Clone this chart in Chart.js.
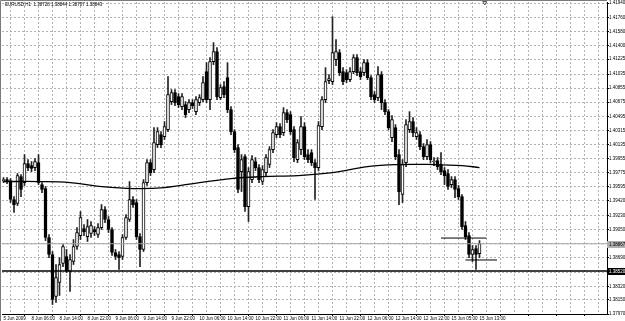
<!DOCTYPE html>
<html lang="en">
<head>
<meta charset="UTF-8">
<title>EURUSD,H1</title>
<script src="https://cdn.jsdelivr.net/npm/chart.js"></script>
<style>
  html, body { margin: 0; padding: 0; background: #fff; }
  #chart { display: block; }
</style>
</head>
<body>
<canvas id="chart" width="625" height="321"></canvas>
<script>
// EURUSD H1 candles, one entry per hour bar (bar 0 = 5 Jun 2009 afternoon)
const opens = [
  1.39674, 1.39687, 1.39674, 1.39432, 1.39381, 1.39725, 1.39649, 1.39891, 1.39866, 1.39840,
  1.39904, 1.39623, 1.39572, 1.38947, 1.38730, 1.38194, 1.38372, 1.38615, 1.38704, 1.38513,
  1.38640, 1.38832, 1.38972, 1.39062, 1.38959, 1.38998, 1.39049, 1.38985, 1.39074, 1.39304,
  1.39177, 1.39049, 1.38755, 1.38730, 1.38704, 1.38947, 1.39177, 1.39432, 1.39394, 1.38959,
  1.38794, 1.39649, 1.39904, 1.39815, 1.40134, 1.40262, 1.40236, 1.40325, 1.40683, 1.40798,
  1.40747, 1.40619, 1.40645, 1.40581, 1.40670, 1.40555, 1.40670, 1.40708, 1.41066, 1.40708,
  1.41194, 1.41321, 1.40734, 1.40874, 1.40989, 1.40581, 1.40300, 1.40096, 1.39789, 1.39981,
  1.39342, 1.39687, 1.39917, 1.39840, 1.39662, 1.39776, 1.39879, 1.40070, 1.40262, 1.40364,
  1.40287, 1.40542, 1.40517, 1.40325, 1.39942, 1.40070, 1.40364, 1.40006, 1.40032, 1.39904,
  1.39840, 1.40364, 1.40708, 1.40951, 1.40938, 1.41219, 1.41308, 1.41066, 1.41053, 1.40964,
  1.41066, 1.41245, 1.41066, 1.41053, 1.41181, 1.40989, 1.40772, 1.40734, 1.41028, 1.40670,
  1.40555, 1.40223, 1.40351, 1.40006, 1.39496, 1.39904, 1.40325, 1.40428, 1.40236, 1.40262,
  1.40108, 1.39981, 1.40134, 1.39917, 1.39930, 1.39879, 1.39802, 1.39764, 1.39623, 1.39687,
  1.39572, 1.39470, 1.39100, 1.38972, 1.38730, 1.38806, 1.38742
];
const highs = [
  1.39713, 1.39713, 1.39700, 1.39470, 1.39764, 1.39751, 1.40006, 1.39942, 1.39917, 1.39955,
  1.40006, 1.39649, 1.39598, 1.38985, 1.38768, 1.38602, 1.38691, 1.38857, 1.38794, 1.38730,
  1.38921, 1.39074, 1.39279, 1.39113, 1.39177, 1.39151, 1.39087, 1.39125, 1.39368, 1.39342,
  1.39215, 1.39074, 1.38794, 1.38768, 1.38985, 1.39240, 1.39662, 1.39470, 1.39432, 1.38998,
  1.39687, 1.39942, 1.39942, 1.40351, 1.40351, 1.40300, 1.40428, 1.41002, 1.40836, 1.40836,
  1.40785, 1.40785, 1.40683, 1.40708, 1.40708, 1.40747, 1.40772, 1.41002, 1.41181, 1.41245,
  1.41436, 1.41372, 1.40900, 1.40938, 1.41181, 1.40619, 1.40325, 1.40134, 1.40006, 1.40006,
  1.39840, 1.39994, 1.39968, 1.39879, 1.39866, 1.40006, 1.40108, 1.40325, 1.40415, 1.40402,
  1.40606, 1.40581, 1.40555, 1.40364, 1.40198, 1.40491, 1.40415, 1.40070, 1.40070, 1.39942,
  1.40428, 1.40747, 1.41117, 1.41028, 1.41768, 1.41474, 1.41347, 1.41117, 1.41091, 1.41117,
  1.41283, 1.41283, 1.41117, 1.41219, 1.41219, 1.41015, 1.40811, 1.41130, 1.41066, 1.40708,
  1.40581, 1.40504, 1.40389, 1.40070, 1.39942, 1.40453, 1.40555, 1.40479, 1.40351, 1.40300,
  1.40147, 1.40198, 1.40172, 1.39968, 1.39968, 1.40032, 1.39840, 1.39815, 1.39725, 1.39725,
  1.39611, 1.39496, 1.39151, 1.39011, 1.38845, 1.38845, 1.38908
];
const lows = [
  1.39649, 1.39636, 1.39394, 1.39266, 1.39355, 1.39470, 1.39611, 1.39802, 1.39789, 1.39802,
  1.39623, 1.39521, 1.38908, 1.38691, 1.38091, 1.38117, 1.38206, 1.38576, 1.38500, 1.38257,
  1.38602, 1.38794, 1.38921, 1.38972, 1.38896, 1.38947, 1.38972, 1.38947, 1.39049, 1.39138,
  1.39011, 1.38717, 1.38666, 1.38538, 1.38666, 1.38921, 1.39151, 1.39330, 1.38921, 1.38576,
  1.38768, 1.39611, 1.39738, 1.39776, 1.40096, 1.40096, 1.40198, 1.40300, 1.40645, 1.40632,
  1.40606, 1.40581, 1.40479, 1.40542, 1.40594, 1.40517, 1.40632, 1.40683, 1.40670, 1.40581,
  1.41155, 1.40708, 1.40708, 1.40734, 1.40542, 1.40262, 1.40032, 1.39521, 1.39534, 1.39279,
  1.39151, 1.39649, 1.39802, 1.39649, 1.39623, 1.39738, 1.39840, 1.40032, 1.40223, 1.40223,
  1.40249, 1.40415, 1.40262, 1.39917, 1.39904, 1.40006, 1.39942, 1.39904, 1.39866, 1.39432,
  1.39802, 1.40325, 1.40670, 1.40913, 1.40900, 1.41142, 1.41015, 1.40900, 1.40925, 1.40938,
  1.41040, 1.41015, 1.40964, 1.41015, 1.40964, 1.40708, 1.40670, 1.40696, 1.40581, 1.40517,
  1.40325, 1.40172, 1.39942, 1.39368, 1.39394, 1.39853, 1.40287, 1.40236, 1.40198, 1.40070,
  1.39942, 1.39942, 1.39904, 1.39866, 1.39815, 1.39751, 1.39623, 1.39560, 1.39585, 1.39457,
  1.39432, 1.39049, 1.38921, 1.38691, 1.38640, 1.38538, 1.38691
];
const closes = [
  1.39687, 1.39674, 1.39432, 1.39368, 1.39738, 1.39560, 1.39891, 1.39840, 1.39828, 1.39917,
  1.39649, 1.39560, 1.38947, 1.38730, 1.38155, 1.38436, 1.38602, 1.38832, 1.38525, 1.38666,
  1.38832, 1.39011, 1.39202, 1.39023, 1.39087, 1.39100, 1.39023, 1.39074, 1.39304, 1.39177,
  1.39049, 1.38755, 1.38704, 1.38691, 1.38947, 1.39202, 1.39432, 1.39368, 1.38959, 1.38794,
  1.39649, 1.39904, 1.39776, 1.40160, 1.40300, 1.40134, 1.40364, 1.40772, 1.40798, 1.40670,
  1.40645, 1.40747, 1.40517, 1.40670, 1.40632, 1.40708, 1.40734, 1.40925, 1.40708, 1.41194,
  1.41321, 1.40747, 1.40862, 1.40772, 1.40581, 1.40300, 1.40070, 1.39560, 1.39942, 1.39342,
  1.39789, 1.39942, 1.39840, 1.39687, 1.39815, 1.39968, 1.40070, 1.40287, 1.40364, 1.40262,
  1.40542, 1.40453, 1.40300, 1.39968, 1.40160, 1.40364, 1.39981, 1.39942, 1.39904, 1.39840,
  1.40377, 1.40708, 1.40938, 1.40977, 1.41308, 1.41321, 1.41053, 1.40938, 1.40964, 1.41066,
  1.41245, 1.41053, 1.41002, 1.41181, 1.40989, 1.40747, 1.40708, 1.41028, 1.40670, 1.40555,
  1.40351, 1.40453, 1.39981, 1.39534, 1.39879, 1.40389, 1.40428, 1.40287, 1.40287, 1.40108,
  1.39981, 1.40134, 1.39942, 1.39924, 1.39853, 1.39789, 1.39738, 1.39598, 1.39687, 1.39560,
  1.39470, 1.39087, 1.38959, 1.38730, 1.38794, 1.38730, 1.38870
];

// time axis: one label every 8 bars
const timeLabels = [
  "5 Jun 2009", "8 Jun 06:00", "8 Jun 14:00", "8 Jun 22:00", "9 Jun 06:00", "9 Jun 14:00",
  "9 Jun 22:00", "10 Jun 06:00", "10 Jun 14:00", "10 Jun 22:00", "11 Jun 06:00", "11 Jun 14:00",
  "11 Jun 22:00", "12 Jun 06:00", "12 Jun 14:00", "12 Jun 22:00", "15 Jun 05:00", "15 Jun 13:00"
];
const priceTicks = [
  1.41940, 1.41760, 1.41580, 1.41400, 1.41225, 1.41035, 1.40855, 1.40675, 1.40495, 1.40315,
  1.40135, 1.39955, 1.39775, 1.39595, 1.39420, 1.39230, 1.39050, 1.38870, 1.38690, 1.38500,
  1.38320, 1.38150, 1.37970
];

// moving average, read at a few bars along the curve
const maBars   = [0, 10, 19, 28, 37, 46, 56, 65, 74, 84, 94, 104, 112, 123, 131, 136];
const maValues = [1.39662, 1.39662, 1.39649, 1.39598, 1.39572, 1.39585, 1.39649, 1.39700,
                  1.39725, 1.39738, 1.39776, 1.39853, 1.39879, 1.39879, 1.39866, 1.39840];

const bidPrice = 1.38867;
const levelPrice = 1.38520;
const shortLevelPrices = [1.38940, 1.38660];
const shortLevelFrom = [125, 132];
const shortLevelTo = [138, 141];
const titleText = "EURUSD,H1  1.38728 1.38844 1.38707 1.38843";

const X_MIN = -0.43, X_MAX = 172.43;
const FONT = "'Liberation Sans', Arial, sans-serif";

const barIdx = closes.map((c, i) => i);

const decor = {
  id: "decor",
  beforeDraw(chart) {
    const ctx = chart.ctx;
    ctx.save();
    ctx.fillStyle = "#fff";
    ctx.fillRect(0, 0, chart.width, chart.height);
    ctx.restore();
  },
  afterDraw(chart) {
    const ctx = chart.ctx;
    const ys = chart.scales.y;
    const xs = chart.scales.x;
    const area = chart.chartArea;
    ctx.save();
    // frame left / top
    ctx.strokeStyle = "#7a7a7a";
    ctx.lineWidth = 1;
    ctx.beginPath();
    ctx.moveTo(0.5, chart.height);
    ctx.lineTo(0.5, 0.5);
    ctx.lineTo(area.right, 0.5);
    ctx.stroke();

    // title
    ctx.fillStyle = "#000";
    ctx.font = "4.5px " + FONT;
    ctx.textBaseline = "top";
    ctx.textAlign = "left";
    ctx.fillText(titleText, 5, 3);

    // highlighted price labels
    const boxes = [
      { v: bidPrice, bg: "#b0b0b0", fg: "#000" },
      { v: levelPrice, bg: "#000", fg: "#fff" }
    ];
    boxes.forEach(b => {
      const y = Math.round(ys.getPixelForValue(b.v));
      ctx.fillStyle = b.bg;
      ctx.fillRect(area.right, y - 3, chart.width - area.right, 7);
      ctx.fillStyle = b.fg;
      ctx.textBaseline = "middle";
      ctx.fillText(b.v.toFixed(5), area.right + 2, y + 0.5);
    });

    // shift marker at the top
    const mx = xs.getPixelForValue(137.5);
    ctx.strokeStyle = "#555";
    ctx.beginPath();
    ctx.moveTo(mx - 2, 1.5);
    ctx.lineTo(mx + 2, 1.5);
    ctx.lineTo(mx, 5);
    ctx.closePath();
    ctx.stroke();
    ctx.restore();
  }
};

const lineDs = (data, color, width, order) => ({
  type: "line",
  data: data,
  borderColor: color,
  borderWidth: width,
  pointRadius: 0,
  fill: false,
  order: order
});

const datasets = [
  {
    type: "bar",
    label: "wicks",
    data: barIdx.map(i => ({ x: i, y: [lows[i], highs[i]] })),
    backgroundColor: "#222",
    barThickness: 1,
    grouped: false,
    order: 4
  },
  {
    type: "bar",
    label: "bodies",
    data: barIdx.map(i => ({ x: i, y: [opens[i], closes[i]] })),
    backgroundColor: barIdx.map(i => closes[i] >= opens[i] ? "#fff" : "#000"),
    borderColor: "#000",
    borderWidth: 1,
    borderSkipped: false,
    barThickness: 3,
    grouped: false,
    order: 3
  },
  Object.assign(lineDs(maBars.map((b, i) => ({ x: b, y: maValues[i] })), "#000", 1.3, 0), { tension: 0.4 }),
  lineDs([{ x: X_MIN, y: bidPrice }, { x: X_MAX, y: bidPrice }], "#a4a4a4", 1, 2),
  lineDs([{ x: X_MIN, y: levelPrice }, { x: X_MAX, y: levelPrice }], "#000", 1.6, 1),
  lineDs([{ x: shortLevelFrom[0], y: shortLevelPrices[0] }, { x: shortLevelTo[0], y: shortLevelPrices[0] }], "#000", 1, 1),
  lineDs([{ x: shortLevelFrom[1], y: shortLevelPrices[1] }, { x: shortLevelTo[1], y: shortLevelPrices[1] }], "#000", 1, 1)
];

new Chart(document.getElementById("chart").getContext("2d"), {
  type: "bar",
  data: { datasets: datasets },
  options: {
    responsive: false,
    animation: false,
    devicePixelRatio: 1,
    layout: { padding: { left: 2, top: 2, right: 0, bottom: 0 } },
    plugins: { legend: { display: false }, tooltip: { enabled: false } },
    scales: {
      x: {
        type: "linear",
        min: X_MIN,
        max: X_MAX,
        offset: false,
        afterBuildTicks: s => {
          s.ticks = [];
          for (let v = 0; v <= 172; v += 4) s.ticks.push({ value: v });
        },
        afterFit: s => { s.height = 7; s.paddingLeft = 0; s.paddingRight = 0; },
        ticks: {
          autoSkip: false,
          maxRotation: 0,
          align: "start",
          padding: 0,
          color: "#000",
          font: { family: FONT, size: 4.5 },
          callback: v => (v % 8 === 0 && timeLabels[v / 8]) ? timeLabels[v / 8] : ""
        },
        grid: {
          color: "#b2b2b2",
          lineWidth: 1,
          tickLength: 2,
          tickBorderDash: [],
          tickColor: c => (c.tick && c.tick.value % 8 === 0) ? "#000" : "rgba(0,0,0,0)"
        },
        border: { color: "#000", width: 1, dash: [2, 2] }
      },
      y: {
        type: "linear",
        position: "right",
        min: 1.37970,
        max: 1.41955,
        afterBuildTicks: s => { s.ticks = priceTicks.map(v => ({ value: v })); },
        afterFit: s => { s.width = 18; s.paddingTop = 0; s.paddingBottom = 0; },
        ticks: {
          padding: 0,
          color: "#000",
          font: { family: FONT, size: 4.5 },
          callback: v => v.toFixed(5)
        },
        grid: {
          color: "#b2b2b2",
          lineWidth: 1,
          tickLength: 2,
          tickBorderDash: [],
          tickColor: "#000"
        },
        border: { color: "#000", width: 1, dash: [2, 2] }
      }
    }
  },
  plugins: [decor]
});
</script>
</body>
</html>
